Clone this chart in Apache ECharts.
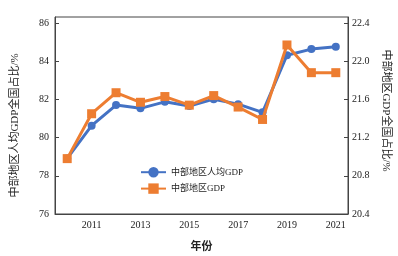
<!DOCTYPE html>
<html><head><meta charset="utf-8">
<script src="https://cdn.jsdelivr.net/npm/echarts@6/dist/echarts.min.js"></script>
<style>html,body{margin:0;padding:0;background:#fff;}#c{width:398px;height:256px;}</style>
</head><body><div id="c"></div>
<script>
const years = ['2010','2011','2012','2013','2014','2015','2016','2017','2018','2019','2020','2021'];
const perCapitaShare = [78.91, 80.62, 81.70, 81.53, 81.87, 81.65, 82.01, 81.75, 81.32, 84.31, 84.63, 84.75];
const gdpShare = [20.98, 21.45, 21.67, 21.57, 21.63, 21.54, 21.64, 21.52, 21.39, 22.17, 21.88, 21.88];
const leftTicks = [76, 78, 80, 82, 84, 86];
const rightTicks = [20.4, 20.8, 21.2, 21.6, 22.0, 22.4];
const seriesNames = ['中部地区人均GDP', '中部地区GDP'];

const FONT = '"Liberation Serif","Noto Sans CJK SC",serif';
const axisColor = '#444';
const chart = echarts.init(document.getElementById('c'));
chart.setOption({
  animation: false,
  textStyle: {fontFamily: FONT},
  grid: {left: 55, right: 50, top: 17, bottom: 42, outerBoundsMode: 'none', show: true, borderColor: axisColor, borderWidth: 1, backgroundColor: 'transparent'},
  legend: {
    orient: 'vertical', left: 135, top: 162, itemGap: 6, itemWidth: 25, itemHeight: 13,
    textStyle: {fontFamily: FONT, fontSize: 9, color: '#222'},
    data: seriesNames
  },
  xAxis: {
    type: 'category', data: years, boundaryGap: true,
    name: '年份', nameLocation: 'middle', nameGap: 28,
    nameTextStyle: {fontFamily: FONT, fontSize: 11, color: '#222', fontWeight: 'bold'},
    axisLine: {lineStyle: {color: axisColor}},
    axisTick: {inside: true, length: 4, alignWithLabel: true, interval: (i) => i % 2 === 1, lineStyle: {color: axisColor}},
    axisLabel: {interval: (i) => i % 2 === 1, fontSize: 10, color: '#222', margin: 6, fontFamily: FONT}
  },
  yAxis: [{
    type: 'value', min: 76, max: 86.31, interval: 2,
    name: '中部地区人均GDP全国占比/%', nameLocation: 'middle', nameGap: 34, nameRotate: 90,
    nameTextStyle: {fontFamily: FONT, fontSize: 11, color: '#222', padding: [0, 20, 0, 0]},
    axisLine: {show: true, lineStyle: {color: axisColor}},
    axisTick: {show: true, inside: true, length: 4, customValues: leftTicks, lineStyle: {color: axisColor}},
    axisLabel: {customValues: leftTicks, fontSize: 10, color: '#222', margin: 6, fontFamily: FONT},
    splitLine: {show: false}
  }, {
    type: 'value', min: 20.4, max: 22.463, interval: 0.4, position: 'right',
    name: '中部地区GDP全国占比/%', nameLocation: 'middle', nameGap: 30, nameRotate: -90,
    nameTextStyle: {fontFamily: FONT, fontSize: 11, color: '#222', padding: [0, 10, 0, 0]},
    axisLine: {show: true, lineStyle: {color: axisColor}},
    axisTick: {show: true, inside: true, length: 4, customValues: rightTicks, lineStyle: {color: axisColor}},
    axisLabel: {customValues: rightTicks, formatter: (v) => v.toFixed(1), fontSize: 10, color: '#222', margin: 4, fontFamily: FONT},
    splitLine: {show: false}
  }],
  series: [{
    name: seriesNames[0], type: 'line', yAxisIndex: 0, data: perCapitaShare,
    symbol: 'circle', symbolSize: 8, color: '#4472C4',
    lineStyle: {width: 3, color: '#4472C4'}, itemStyle: {color: '#4472C4'}, z: 2
  }, {
    name: seriesNames[1], type: 'line', yAxisIndex: 1, data: gdpShare,
    symbol: 'rect', symbolSize: 9, color: '#ED7D31',
    lineStyle: {width: 3, color: '#ED7D31'}, itemStyle: {color: '#ED7D31'}, z: 3
  }]
});
</script></body></html>
